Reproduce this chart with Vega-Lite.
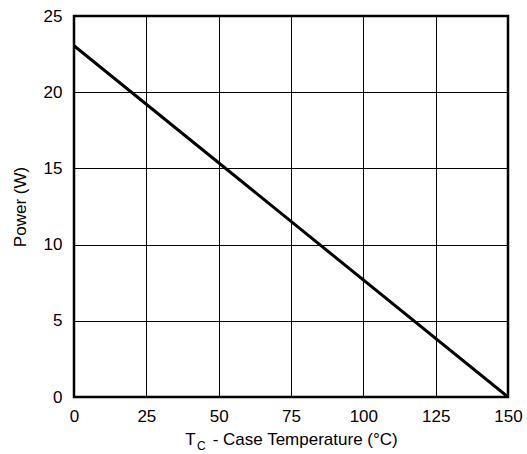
{
  "$schema": "https://vega.github.io/schema/vega-lite/v6.json",
  "width": 434,
  "height": 381,
  "autosize": {"type": "none"},
  "padding": {"left": 74, "top": 16, "right": 19, "bottom": 57},
  "background": "white",
  "config": {
    "font": "Liberation Sans",
    "view": {"stroke": "black", "strokeWidth": 2.5},
    "axis": {
      "domain": false,
      "ticks": false,
      "grid": true,
      "gridColor": "black",
      "gridOpacity": 1,
      "gridWidth": 1,
      "labelFlush": false,
      "labelFont": "Liberation Sans",
      "labelFontSize": 17,
      "labelColor": "black",
      "titleFont": "Liberation Sans",
      "titleFontSize": 17,
      "titleFontWeight": "normal",
      "titleColor": "black"
    }
  },
  "title": {
    "text": "C",
    "orient": "bottom",
    "anchor": "start",
    "frame": "group",
    "fontSize": 12,
    "fontWeight": "normal",
    "font": "Liberation Sans",
    "color": "black",
    "dx": 123,
    "offset": -6
  },
  "data": {
    "values": [
      {"temp": 0, "power": 23.05},
      {"temp": 150, "power": 0}
    ]
  },
  "mark": {"type": "line", "color": "black", "strokeWidth": 3, "clip": true},
  "encoding": {
    "x": {
      "field": "temp",
      "type": "quantitative",
      "scale": {"domain": [0, 150], "nice": false, "zero": false},
      "axis": {
        "values": [0, 25, 50, 75, 100, 125, 150],
        "labelPadding": 11,
        "title": "T\u2002\u2002- Case Temperature (°C)",
        "titlePadding": 7
      }
    },
    "y": {
      "field": "power",
      "type": "quantitative",
      "scale": {"domain": [0, 25], "nice": false},
      "axis": {
        "values": [0, 5, 10, 15, 20, 25],
        "labelPadding": 12,
        "title": "Power (W)",
        "titlePadding": 14
      }
    }
  }
}
